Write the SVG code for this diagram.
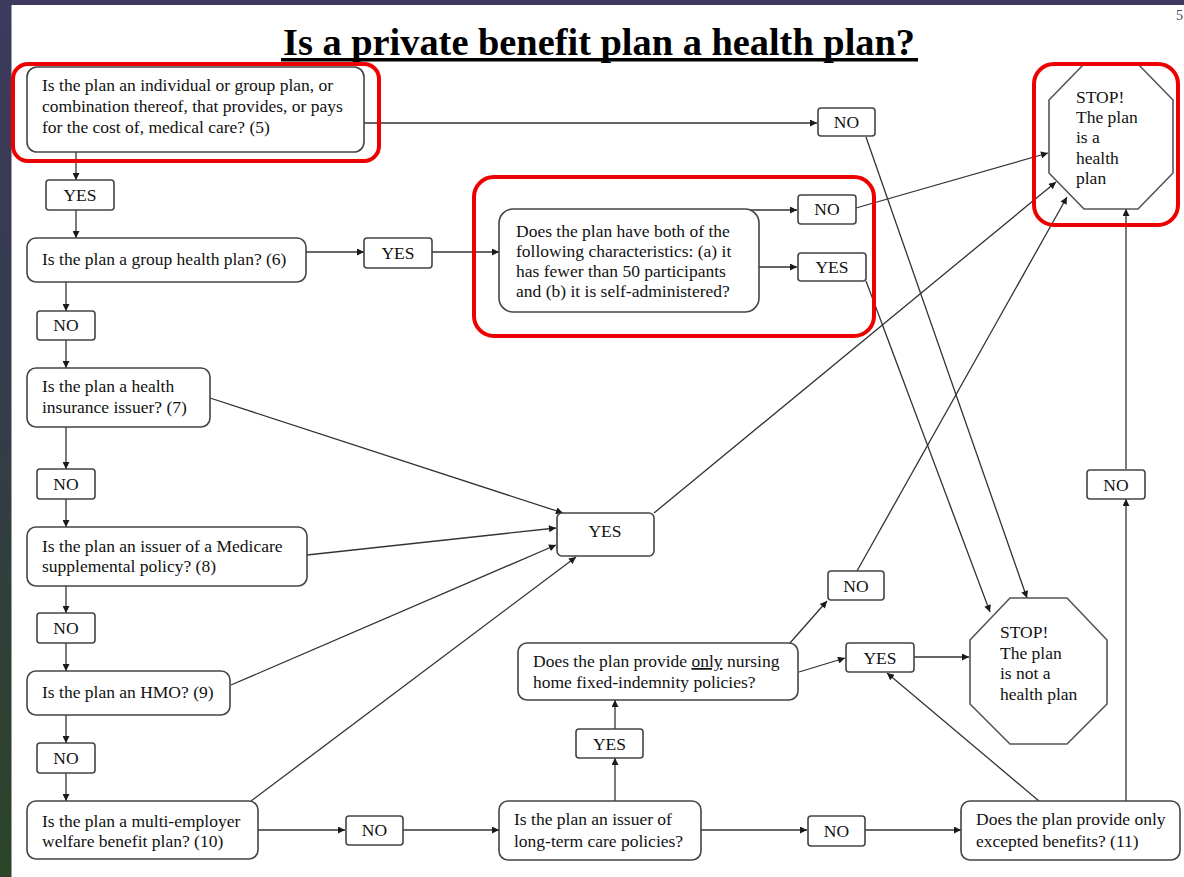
<svg xmlns="http://www.w3.org/2000/svg" width="1184" height="877" viewBox="0 0 1184 877" font-family="Liberation Serif, serif">
<defs>
<linearGradient id="side" x1="0" y1="0" x2="0" y2="1">
<stop offset="0" stop-color="#3d3a5e"/>
<stop offset="0.45" stop-color="#343c4a"/>
<stop offset="1" stop-color="#2c4428"/>
</linearGradient>
<marker id="ah" viewBox="0 0 10 10" refX="10" refY="5" markerWidth="9" markerHeight="7" markerUnits="userSpaceOnUse" orient="auto">
<path d="M0,0 L10,5 L0,10 z" fill="#1a1a1a"/>
</marker>
<style>
.node{fill:#fff;stroke:#444;stroke-width:1.6}
.lbl{fill:#fff;stroke:#444;stroke-width:1.6}
.hl{fill:none;stroke:#ee0000;stroke-width:4}
.t{font-size:17.5px;fill:#111}
.c{text-anchor:middle}
.con line{stroke:#333;stroke-width:1.3;marker-end:url(#ah)}
.oct{fill:#fff;stroke:#555;stroke-width:1.6}
</style>
</defs>
<rect x="0" y="0" width="1184" height="877" fill="#fff"/>
<rect x="0" y="0" width="1184" height="5" fill="#3f3b5f"/>
<rect x="0" y="0" width="11.5" height="877" fill="url(#side)"/>
<text x="1176" y="20" font-family="Liberation Serif, serif" font-size="14" fill="#445">5</text>

<g id="title">
<text x="283" y="55" font-family="Liberation Serif, serif" font-weight="bold" font-size="37" textLength="632" lengthAdjust="spacingAndGlyphs" fill="#000">Is a private benefit plan a health plan?</text>
<rect x="281" y="58" width="637" height="3.5" fill="#000"/>
</g>

<g id="connectors" class="con">
<line x1="364" y1="123" x2="817" y2="123"/>
<line x1="76" y1="152" x2="76" y2="180"/>
<line x1="76" y1="210" x2="76" y2="238"/>
<line x1="306" y1="252" x2="364" y2="252"/>
<line x1="432" y1="252" x2="499" y2="252"/>
<line x1="745" y1="210" x2="797" y2="210"/>
<line x1="759" y1="267" x2="797" y2="267"/>
<line x1="856" y1="208" x2="1048" y2="153"/>
<line x1="866" y1="137" x2="1027" y2="598"/>
<line x1="866" y1="281" x2="990" y2="612"/>
<line x1="66" y1="282" x2="66" y2="311"/>
<line x1="66" y1="340" x2="66" y2="368"/>
<line x1="66" y1="427" x2="66" y2="469"/>
<line x1="66" y1="499" x2="66" y2="527"/>
<line x1="66" y1="586" x2="66" y2="613"/>
<line x1="66" y1="643" x2="66" y2="671"/>
<line x1="66" y1="715" x2="66" y2="743"/>
<line x1="66" y1="773" x2="66" y2="801"/>
<line x1="210" y1="398" x2="563" y2="513"/>
<line x1="307" y1="555" x2="556" y2="528"/>
<line x1="231" y1="685" x2="556" y2="545"/>
<line x1="251" y1="801" x2="576" y2="557"/>
<line x1="654" y1="513" x2="1056" y2="182"/>
<line x1="258" y1="830" x2="345" y2="830"/>
<line x1="403" y1="830" x2="499" y2="830"/>
<line x1="701" y1="830" x2="807" y2="830"/>
<line x1="865" y1="830" x2="961" y2="830"/>
<line x1="615" y1="801" x2="615" y2="758"/>
<line x1="615" y1="729" x2="615" y2="700"/>
<line x1="790" y1="643" x2="827" y2="601"/>
<line x1="857" y1="571" x2="1067" y2="197"/>
<line x1="799" y1="672" x2="845" y2="658"/>
<line x1="914" y1="657" x2="969" y2="657"/>
<line x1="1039" y1="801" x2="887" y2="673"/>
<line x1="1126" y1="801" x2="1126" y2="499"/>
<line x1="1126" y1="469" x2="1126" y2="209"/>
</g>

<g id="n1">
<rect class="node" x="27" y="67" width="337" height="85" rx="10"/>
<text class="t" x="42" y="91">Is the plan an individual or group plan, or</text>
<text class="t" x="42" y="112">combination thereof, that provides, or pays</text>
<text class="t" x="42" y="133">for the cost of, medical care? (5)</text>
</g>
<g id="no1"><rect class="lbl" x="818" y="108" width="57" height="28" rx="3"/><text class="t c" x="846.5" y="128">NO</text></g>
<g id="yes1"><rect class="lbl" x="46" y="180" width="68" height="30" rx="3"/><text class="t c" x="80" y="201">YES</text></g>
<g id="n2">
<rect class="node" x="27" y="238" width="279" height="44" rx="9"/>
<text class="t" x="42" y="265">Is the plan a group health plan? (6)</text>
</g>
<g id="yes2"><rect class="lbl" x="364" y="238" width="68" height="30" rx="3"/><text class="t c" x="398" y="259">YES</text></g>
<g id="n3">
<rect class="node" x="499" y="209" width="260" height="103" rx="14"/>
<text class="t" x="516" y="237">Does the plan have both of the</text>
<text class="t" x="516" y="257">following characteristics: (a) it</text>
<text class="t" x="516" y="277">has fewer than 50 participants</text>
<text class="t" x="516" y="297">and (b) it is self-administered?</text>
</g>
<g id="no2"><rect class="lbl" x="798" y="195" width="58" height="29" rx="3"/><text class="t c" x="827" y="215">NO</text></g>
<g id="yes3"><rect class="lbl" x="798" y="253" width="68" height="28" rx="3"/><text class="t c" x="832" y="273">YES</text></g>
<g id="stop1">
<polygon class="oct" points="1084,64 1138,64 1173,100 1173,173 1138,209 1084,209 1049,173 1049,100"/>
<text class="t" x="1076" y="103">STOP!</text>
<text class="t" x="1076" y="123">The plan</text>
<text class="t" x="1076" y="143">is a</text>
<text class="t" x="1076" y="164">health</text>
<text class="t" x="1076" y="184">plan</text>
</g>
<g id="noa"><rect class="lbl" x="37" y="311" width="58" height="29" rx="3"/><text class="t c" x="66" y="331">NO</text></g>
<g id="n4">
<rect class="node" x="27" y="368" width="183" height="59" rx="9"/>
<text class="t" x="42" y="392">Is the plan a health</text>
<text class="t" x="42" y="413">insurance issuer? (7)</text>
</g>
<g id="nob"><rect class="lbl" x="37" y="469" width="58" height="30" rx="3"/><text class="t c" x="66" y="490">NO</text></g>
<g id="n5">
<rect class="node" x="27" y="527" width="280" height="59" rx="9"/>
<text class="t" x="42" y="552">Is the plan an issuer of a Medicare</text>
<text class="t" x="42" y="572">supplemental policy? (8)</text>
</g>
<g id="yesc"><rect class="lbl" x="557" y="513" width="97" height="43" rx="5"/><text class="t c" x="605" y="537">YES</text></g>
<g id="noc"><rect class="lbl" x="37" y="613" width="58" height="30" rx="3"/><text class="t c" x="66" y="634">NO</text></g>
<g id="n6">
<rect class="node" x="27" y="671" width="203" height="44" rx="9"/>
<text class="t" x="42" y="698">Is the plan an HMO? (9)</text>
</g>
<g id="nod"><rect class="lbl" x="37" y="743" width="58" height="30" rx="3"/><text class="t c" x="66" y="764">NO</text></g>
<g id="n7">
<rect class="node" x="27" y="801" width="231" height="58" rx="9"/>
<text class="t" x="42" y="827">Is the plan a multi-employer</text>
<text class="t" x="42" y="847">welfare benefit plan? (10)</text>
</g>
<g id="noe"><rect class="lbl" x="346" y="816" width="57" height="29" rx="3"/><text class="t c" x="374.5" y="836">NO</text></g>
<g id="n8">
<rect class="node" x="499" y="801" width="202" height="59" rx="9"/>
<text class="t" x="514" y="825">Is the plan an issuer of</text>
<text class="t" x="514" y="847">long-term care policies?</text>
</g>
<g id="nof"><rect class="lbl" x="808" y="816" width="57" height="30" rx="3"/><text class="t c" x="836.5" y="837">NO</text></g>
<g id="n9">
<rect class="node" x="961" y="801" width="219" height="59" rx="9"/>
<text class="t" x="976" y="825">Does the plan provide only</text>
<text class="t" x="976" y="847">excepted benefits? (11)</text>
</g>
<g id="yesg"><rect class="lbl" x="576" y="729" width="67" height="29" rx="3"/><text class="t c" x="609.5" y="750">YES</text></g>
<g id="n10">
<rect class="node" x="518" y="643" width="280" height="57" rx="9"/>
<text class="t" x="533" y="667">Does the plan provide <tspan text-decoration="underline">only</tspan> nursing</text>
<text class="t" x="533" y="688">home fixed-indemnity policies?</text>
</g>
<g id="noh"><rect class="lbl" x="828" y="571" width="56" height="29" rx="3"/><text class="t c" x="856" y="592">NO</text></g>
<g id="yesi"><rect class="lbl" x="846" y="643" width="68" height="29" rx="3"/><text class="t c" x="880" y="664">YES</text></g>
<g id="stop2">
<polygon class="oct" points="1010,598 1067,598 1107,640 1107,704 1067,744 1010,744 970,704 970,640"/>
<text class="t" x="1000" y="638">STOP!</text>
<text class="t" x="1000" y="659">The plan</text>
<text class="t" x="1000" y="679">is not a</text>
<text class="t" x="1000" y="700">health plan</text>
</g>
<g id="noj"><rect class="lbl" x="1087" y="470" width="58" height="29" rx="3"/><text class="t c" x="1116" y="491">NO</text></g>

<g id="highlights">
<rect class="hl" x="13" y="64" width="366" height="97" rx="15"/>
<rect class="hl" x="474" y="177" width="400" height="159" rx="20"/>
<rect class="hl" x="1034" y="64" width="144" height="161" rx="20"/>
</g>
</svg>
